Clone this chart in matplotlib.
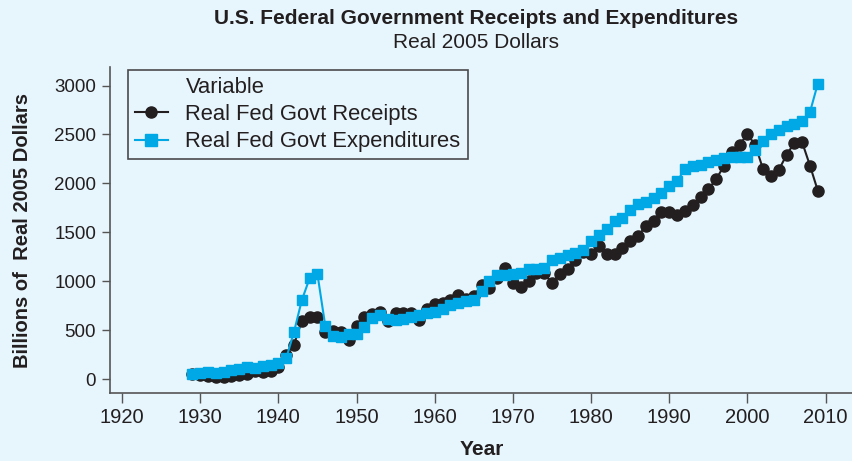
import matplotlib
matplotlib.use("Agg")
import matplotlib.pyplot as plt
from matplotlib.lines import Line2D

years = list(range(1929, 2010))

receipts = [55, 45, 30, 20, 25, 35, 45, 55, 80, 75,
            85, 120, 250, 350, 596, 631, 637, 480, 494, 484,
            395, 545, 637, 665, 688, 590, 671, 678, 671, 603,
            713, 767, 773, 810, 859, 820, 850, 961, 927, 1029,
            1130, 985, 944, 1006, 1081, 1081, 979, 1074, 1122, 1220,
            1295, 1275, 1362, 1275, 1275, 1336, 1414, 1460, 1565, 1620,
            1704, 1711, 1677, 1715, 1779, 1864, 1939, 2045, 2178, 2320,
            2397, 2502, 2393, 2144, 2079, 2137, 2290, 2416, 2420, 2181,
            1925]

expenditures = [51, 60, 70, 65, 70, 95, 100, 120, 110, 130,
                140, 160, 210, 480, 805, 1030, 1074, 545, 440, 430,
                465, 460, 530, 620, 655, 615, 600, 610, 630, 650,
                670, 690, 720, 760, 780, 800, 810, 900, 1005, 1060,
                1060, 1075, 1080, 1120, 1125, 1140, 1220, 1240, 1265, 1290,
                1320, 1410, 1470, 1530, 1620, 1650, 1730, 1790, 1810, 1850,
                1900, 1970, 2020, 2150, 2180, 2190, 2220, 2240, 2260, 2270,
                2270, 2270, 2340, 2430, 2510, 2550, 2590, 2610, 2640, 2730,
                3020]

xticks = [1920, 1930, 1940, 1950, 1960, 1970, 1980, 1990, 2000, 2010]
yticks = [0, 500, 1000, 1500, 2000, 2500, 3000]

BG = "#E7F5FC"
DARK = "#231F20"
BLUE = "#00A8E6"

REG = ["Liberation Sans", "DejaVu Sans"]

fig = plt.figure(figsize=(8.53, 4.61), dpi=100, facecolor=BG)
ax = fig.add_axes([110/853, 1-393/461, (853-110)/853, (393-67)/461])
ax.set_facecolor(BG)

ax.plot(years, receipts, color=DARK, lw=1.5, marker="o", ms=8,
        mfc=DARK, mec=DARK, zorder=3)
ax.plot(years, expenditures, color=BLUE, lw=1.5, marker="s", ms=7.8,
        mfc=BLUE, mec=BLUE, zorder=4)

ax.set_xlim(1918.47, 2013.5)
ax.set_ylim(-143, 3190)
ax.set_xticks(xticks)
ax.set_yticks(yticks)
ax.set_xticklabels([str(t) for t in xticks], family=REG, fontsize=14.5, color=DARK)
ax.set_yticklabels([str(t) for t in yticks], family=REG, fontsize=13.5, color=DARK)
ax.tick_params(axis="x", direction="out", length=7, width=1, color="#555555", pad=4)
ax.tick_params(axis="y", direction="out", length=6, width=1, color="#555555", pad=4)

for s in ["top", "right"]:
    ax.spines[s].set_visible(False)
for s in ["left", "bottom"]:
    ax.spines[s].set_color("#555555")
    ax.spines[s].set_linewidth(1.2)

ax.set_xlabel("Year", family=REG, fontweight="bold", fontsize=15, color=DARK, labelpad=9)
ax.set_ylabel("Billions of  Real 2005 Dollars", family=REG, fontweight="bold",
              fontsize=14.5, color=DARK, labelpad=16)

fig.text(476/853, 1-18/461, "U.S. Federal Government Receipts and Expenditures",
         ha="center", va="center", family=REG, fontweight="bold", fontsize=15, color=DARK)
fig.text(476/853, 1-43/461, "Real 2005 Dollars", ha="center", va="center",
         family=REG, fontsize=15, color=DARK)

h0 = Line2D([], [], linestyle="none", marker=None)
h1 = Line2D([], [], color=DARK, lw=1.5, marker="o", ms=8, mfc=DARK, mec=DARK)
h2 = Line2D([], [], color=BLUE, lw=1.5, marker="s", ms=8, mfc=BLUE, mec=BLUE)
leg = fig.legend([h0, h1, h2], ["Variable", "Real Fed Govt Receipts", "Real Fed Govt Expenditures"],
                 loc="upper left", bbox_to_anchor=(128/853, 1-70/461), borderaxespad=0,
                 frameon=True, fancybox=False, prop={"family": REG, "size": 15.8},
                 handlelength=1.5, handletextpad=0.8, labelspacing=0.28,
                 borderpad=0.32)
leg.get_frame().set_edgecolor(DARK)
leg.get_frame().set_facecolor(BG)
leg.get_frame().set_linewidth(1.2)
for t in leg.get_texts():
    t.set_color(DARK)

fig.savefig("out.png", dpi=100, facecolor=BG)
